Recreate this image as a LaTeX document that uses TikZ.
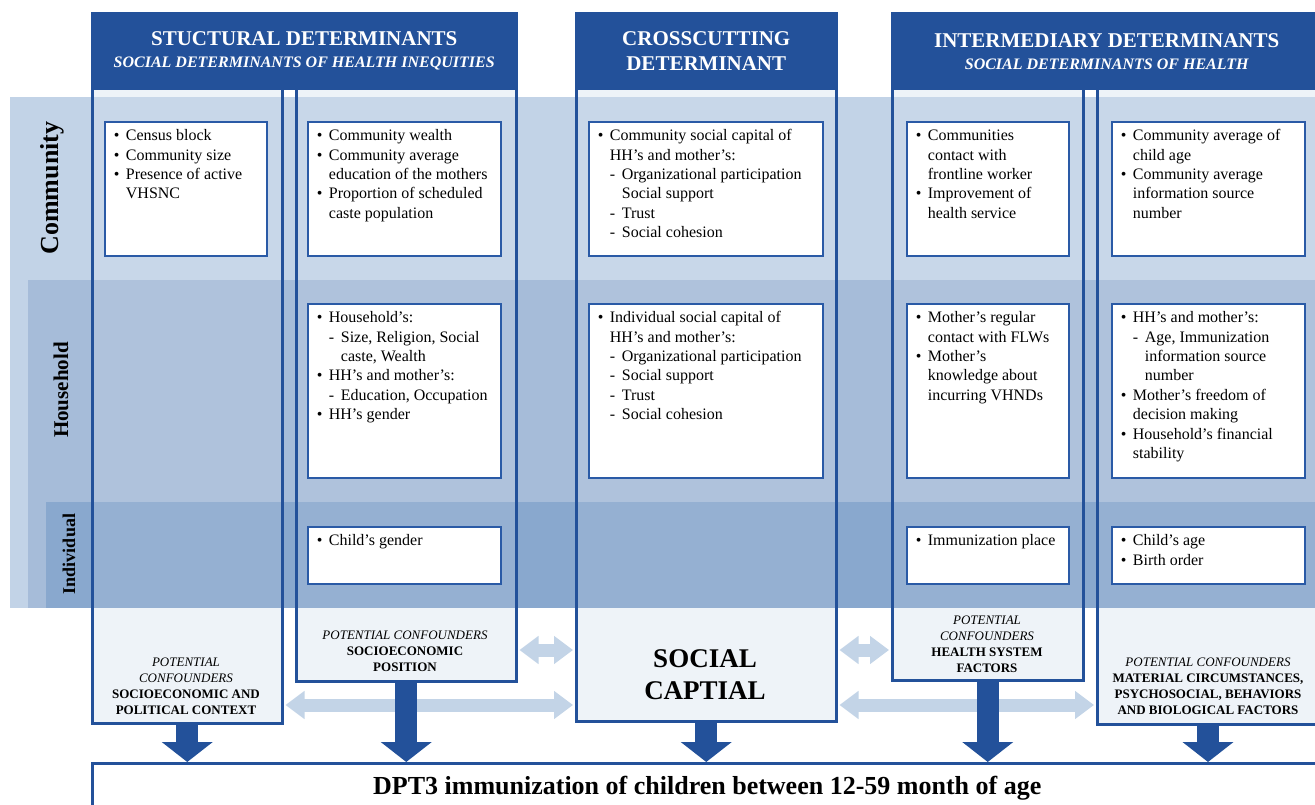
\documentclass[tikz,border=0pt]{standalone}
\usepackage{fontspec}
\setmainfont{Liberation Serif}
\usepackage{tikz}
\usetikzlibrary{arrows.meta,positioning}

% bullet, dash and indents for the list boxes
\newcommand{\bul}{\strut\makebox[12pt][l]{\textbullet}}
\newcommand{\dsh}{\hspace*{12pt}\makebox[12pt][l]{-}}
\newcommand{\cnt}{\hspace*{12pt}}
\newcommand{\cntt}{\hspace*{24pt}}

\begin{document}
\begin{tikzpicture}[x=1pt,y=-1pt,
  colbox/.style={draw=hdblue,line width=2.5pt,fill=white,fill opacity=0.1,draw opacity=1,
    anchor=north west,inner sep=0pt},
  header/.style={fill=hdblue,draw=hdblue,line width=2.5pt,anchor=north west,inner sep=0pt,
    text=white,align=center,font=\fontsize{21}{25}\selectfont\bfseries},
  itembox/.style={draw=boxblue,line width=1.8pt,fill=white,anchor=north west,inner sep=0pt},
  itemtext/.style={anchor=north west,align=left,inner sep=0pt,font=\fontsize{16}{19.4}\selectfont},
  conf/.style={align=center,inner sep=0pt,font=\fontsize{13}{16}\selectfont},
  lightarrow/.style={draw=arrowlight,line width=13pt,shorten <=2pt,shorten >=2pt,
    {Triangle[length=19pt,width=27pt]}-{Triangle[length=19pt,width=27pt]}},
  downarrow/.style={draw=hdblue,line width=22pt,-{Triangle[length=20pt,width=50pt]}}]
\definecolor{hdblue}{HTML}{23519A}
\definecolor{boxblue}{HTML}{2A5AA6}
\definecolor{colfill}{HTML}{EDF2F8}
\definecolor{bandC}{HTML}{C2D3E7}
\definecolor{bandH}{HTML}{A6BCD9}
\definecolor{bandI}{HTML}{89A8CE}
\definecolor{arrowlight}{HTML}{C3D4E7}

\useasboundingbox (0,0) rectangle (1315,805);
\clip (0,0) rectangle (1315,805);
\fill[white] (0,0) rectangle (1315,805);

% Column backgrounds
\fill[colfill] (91,88) rectangle (281,722);
\fill[colfill] (295,88) rectangle (515,680);
\fill[colfill] (575,88) rectangle (835,720);
\fill[colfill] (891,88) rectangle (1082,679);
\fill[colfill] (1096,88) rectangle (1320,723);

% Level bands (community / household / individual)
\fill[bandC] (10,97) rectangle (1320,608);
\fill[bandH] (28,280) rectangle (1320,608);
\fill[bandI] (46,502) rectangle (1320,608);

\node[rotate=90,font=\fontsize{26}{30}\selectfont\bfseries] (rowC) at (52,188) {Community};
\node[rotate=90,font=\fontsize{21}{25}\selectfont\bfseries] (rowH) at (61,390) {Household};
\node[rotate=90,font=\fontsize{18}{22}\selectfont\bfseries] (rowI) at (69,554) {Individual};

% Column frames
\node[colbox,minimum width=190pt,minimum height=634pt] (colA) at (91,88) {};
\node[colbox,minimum width=220pt,minimum height=592pt] (colB) at (295,88) {};
\node[colbox,minimum width=260pt,minimum height=632pt] (colC) at (575,88) {};
\node[colbox,minimum width=191pt,minimum height=591pt] (colD) at (891,88) {};
\node[colbox,minimum width=224pt,minimum height=635pt] (colE) at (1096,88) {};

% Headers
\node[header,minimum width=424pt,minimum height=76pt] (hdS) at (91,12)
  {STUCTURAL DETERMINANTS\\[-3pt]{\fontsize{16}{19}\selectfont\itshape SOCIAL DETERMINANTS OF HEALTH INEQUITIES}};
\node[header,minimum width=260pt,minimum height=76pt] (hdC) at (575,12)
  {CROSSCUTTING\\DETERMINANT};
\node[header,minimum width=429pt,minimum height=76pt] (hdI) at (891,12)
  {INTERMEDIARY DETERMINANTS\\[-3pt]{\fontsize{16}{19}\selectfont\itshape SOCIAL DETERMINANTS OF HEALTH}};

% List boxes
\foreach \n/\x/\y/\w/\h in {comA/104/121/162/134,comB/307/121/193/134,comC/588/121/234/134,
    comD/906/121/162/134,comE/1111/121/193/134,
    hhB/307/303/193/174,hhC/588/303/234/174,hhD/906/303/162/174,hhE/1111/303/193/174,
    indB/307/526/193/57,indD/906/526/162/57,indE/1111/526/193/57} {
  \node[itembox,minimum width=\w pt,minimum height=\h pt] (\n) at (\x,\y) {};
}

\node[itemtext] (comAt) at ([xshift=9.7pt,yshift=-6pt]comA.north west)
  {\bul Census block\\\bul Community size\\\bul Presence of active\\\cnt VHSNC};
\node[itemtext] (comBt) at ([xshift=9.7pt,yshift=-6pt]comB.north west)
  {\bul Community wealth\\\bul Community average\\\cnt education of the mothers\\\bul Proportion of scheduled\\\cnt caste population};
\node[itemtext] (comCt) at ([xshift=9.7pt,yshift=-6pt]comC.north west)
  {\bul Community social capital of\\\cnt HH's and mother's:\\\dsh Organizational participation\\\cntt Social support\\\dsh Trust\\\dsh Social cohesion};
\node[itemtext] (comDt) at ([xshift=9.7pt,yshift=-6pt]comD.north west)
  {\bul Communities\\\cnt contact with\\\cnt frontline worker\\\bul Improvement of\\\cnt health service};
\node[itemtext] (comEt) at ([xshift=9.7pt,yshift=-6pt]comE.north west)
  {\bul Community average of\\\cnt child age\\\bul Community average\\\cnt information source\\\cnt number};

\node[itemtext] (hhBt) at ([xshift=9.7pt,yshift=-6pt]hhB.north west)
  {\bul Household's:\\\dsh Size, Religion, Social\\\cntt caste, Wealth\\\bul HH's and mother's:\\\dsh Education, Occupation\\\bul HH's gender};
\node[itemtext] (hhCt) at ([xshift=9.7pt,yshift=-6pt]hhC.north west)
  {\bul Individual social capital of\\\cnt HH's and mother's:\\\dsh Organizational participation\\\dsh Social support\\\dsh Trust\\\dsh Social cohesion};
\node[itemtext] (hhDt) at ([xshift=9.7pt,yshift=-6pt]hhD.north west)
  {\bul Mother's regular\\\cnt contact with FLWs\\\bul Mother's\\\cnt knowledge about\\\cnt incurring VHNDs};
\node[itemtext] (hhEt) at ([xshift=9.7pt,yshift=-6pt]hhE.north west)
  {\bul HH's and mother's:\\\dsh Age, Immunization\\\cntt information source\\\cntt number\\\bul Mother's freedom of\\\cnt decision making\\\bul Household's financial\\\cnt stability};

\node[itemtext] (indBt) at ([xshift=9.7pt,yshift=-6pt]indB.north west) {\bul Child's gender};
\node[itemtext] (indDt) at ([xshift=9.7pt,yshift=-6pt]indD.north west) {\bul Immunization place};
\node[itemtext] (indEt) at ([xshift=9.7pt,yshift=-6pt]indE.north west) {\bul Child's age\\\bul Birth order};

% Confounder labels
\node[conf] (confA) at (186,686)
  {\textit{POTENTIAL}\\\textit{CONFOUNDERS}\\\textbf{SOCIOECONOMIC AND}\\\textbf{POLITICAL CONTEXT}};
\node[conf] (confB) at (405,651)
  {\textit{POTENTIAL CONFOUNDERS}\\\textbf{SOCIOECONOMIC}\\\textbf{POSITION}};
\node[align=center,inner sep=0pt,font=\fontsize{27}{32}\selectfont\bfseries] (capC) at (705,675)
  {SOCIAL\\CAPTIAL};
\node[conf] (confD) at (987,644)
  {\textit{POTENTIAL}\\\textit{CONFOUNDERS}\\\textbf{HEALTH SYSTEM}\\\textbf{FACTORS}};
\node[conf] (confE) at (1208,686)
  {\textit{POTENTIAL CONFOUNDERS}\\\textbf{MATERIAL CIRCUMSTANCES,}\\\textbf{PSYCHOSOCIAL, BEHAVIORS}\\\textbf{AND BIOLOGICAL FACTORS}};

% Outcome
\node[draw=hdblue,line width=2.5pt,fill=white,anchor=north west,inner sep=0pt,
  minimum width=1230pt,minimum height=50pt,font=\fontsize{26}{30}\selectfont\bfseries] (dpt) at (91,762)
  {DPT3 immunization of children between 12-59 month of age};

% Links between determinants
\coordinate (upL) at (0,650);
\coordinate (lowL) at (0,705);
\draw[lightarrow] (colB.east |- upL) -- (colC.west |- upL);
\draw[lightarrow] (colA.east |- lowL) -- (colC.west |- lowL);
\draw[lightarrow] (colC.east |- upL) -- (colD.west |- upL);
\draw[lightarrow] (colC.east |- lowL) -- (colE.west |- lowL);

% Arrows to outcome
\foreach \c in {colA,colB,colC,colD} {
  \draw[downarrow] (\c.south) -- (\c.south |- dpt.north);
}
\draw[downarrow] (colE.south -| confE) -- (confE |- dpt.north);
\end{tikzpicture}
\end{document}
